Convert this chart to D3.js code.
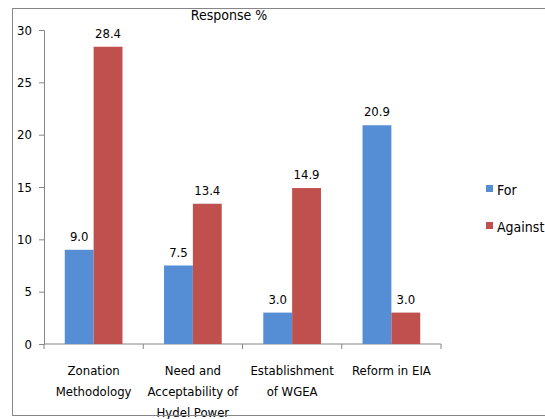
<!DOCTYPE html>
<meta charset="utf-8">
<script src="https://d3js.org/d3.v7.js"></script>
<style>
  body { margin: 0; background: #fff; }
  text { font-family: "DejaVu Sans Condensed", "Liberation Sans Narrow", sans-serif; font-stretch: condensed; fill: #000; }
</style>
<div id="my_dataviz"></div>
<script>

// data
const categories = [
  ["Zonation", "Methodology"],
  ["Need and", "Acceptability of", "Hydel Power"],
  ["Establishment", "of WGEA"],
  ["Reform in EIA"]
];
const series = ["For", "Against"];
const forValues = [9.0, 7.5, 3.0, 20.9];
const againstValues = [28.4, 13.4, 14.9, 3.0];
const yTicks = [0, 5, 10, 15, 20, 25, 30];
const colors = ["#558ed5", "#c0504d"];

const W = 545, H = 419;
const plot = {left: 44, right: 441, top: 30, bottom: 344};

const svg = d3.select("#my_dataviz")
  .append("svg")
    .attr("width", W)
    .attr("height", H);

const x0 = d3.scaleBand()
  .domain(d3.range(categories.length))
  .range([plot.left, plot.right])
  .paddingInner(0)
  .paddingOuter(0);

const x1 = d3.scaleBand()
  .domain(series)
  .range([0, x0.bandwidth()])
  .paddingOuter(0.72)
  .paddingInner(0);

const y = d3.scaleLinear()
  .domain([0, 30])
  .range([plot.bottom, plot.top]);

// title
svg.append("text")
  .attr("x", 229)
  .attr("y", 20)
  .attr("text-anchor", "middle")
  .style("font-size", "14px")
  .text("Response %");

// y axis
const yAxis = svg.append("g")
  .attr("transform", `translate(${plot.left},0)`)
  .call(d3.axisLeft(y).tickValues(yTicks).tickSize(5).tickPadding(7).tickFormat(d3.format("d")));
yAxis.selectAll("text").style("font-size", "13px");

// x axis
const xAxis = svg.append("g")
  .attr("transform", `translate(0,${plot.bottom})`);
xAxis.append("line")
  .attr("x1", plot.left).attr("x2", plot.right)
  .attr("stroke", "#868686");
xAxis.selectAll(".tick")
  .data(d3.range(categories.length + 1))
  .join("line")
    .attr("x1", d => d < categories.length ? x0(d) : plot.right)
    .attr("x2", d => d < categories.length ? x0(d) : plot.right)
    .attr("y1", 0).attr("y2", 5)
    .attr("stroke", "#868686");

yAxis.select(".domain").attr("stroke", "#868686");
yAxis.selectAll(".tick line").attr("stroke", "#868686");

// bars
const rows = categories.map((c, i) => [
  {key: "For", value: forValues[i]},
  {key: "Against", value: againstValues[i]}
]);

const group = svg.selectAll("g.cat")
  .data(rows)
  .join("g")
    .attr("class", "cat")
    .attr("transform", (d, i) => `translate(${x0(i)},0)`);

group.selectAll("rect")
  .data(d => d)
  .join("rect")
    .attr("x", d => x1(d.key))
    .attr("y", d => y(d.value))
    .attr("width", x1.bandwidth())
    .attr("height", d => y(0) - y(d.value))
    .style("fill", (d, i) => colors[i]);

group.selectAll("text.val")
  .data(d => d)
  .join("text")
    .attr("class", "val")
    .attr("x", d => x1(d.key) + x1.bandwidth() / 2)
    .attr("y", d => y(d.value) - 9)
    .attr("text-anchor", "middle")
    .style("font-size", "13px")
    .text(d => d.value.toFixed(1));

// category labels
svg.selectAll("text.cat")
  .data(categories)
  .join("text")
    .attr("class", "cat")
    .attr("text-anchor", "middle")
    .style("font-size", "13px")
    .each(function(lines, i) {
      d3.select(this).selectAll("tspan")
        .data(lines)
        .join("tspan")
          .attr("x", x0(i) + x0.bandwidth() / 2)
          .attr("y", (d, j) => 375 + j * 21)
          .text(d => d);
    });

// legend
const legend = svg.selectAll("g.legend")
  .data(series)
  .join("g")
    .attr("class", "legend")
    .attr("transform", (d, i) => `translate(486,${190 + i * 37})`);
legend.append("rect")
  .attr("x", 0).attr("y", -5)
  .attr("width", 7).attr("height", 7)
  .style("fill", (d, i) => colors[i]);
legend.append("text")
  .attr("x", 11).attr("y", 5)
  .style("font-size", "14px")
  .text(d => d);

// chart frame
svg.append("rect")
  .attr("x", 12.5).attr("y", 8.5)
  .attr("width", 540).attr("height", 407)
  .attr("fill", "none")
  .attr("stroke", "#868686");

</script>
